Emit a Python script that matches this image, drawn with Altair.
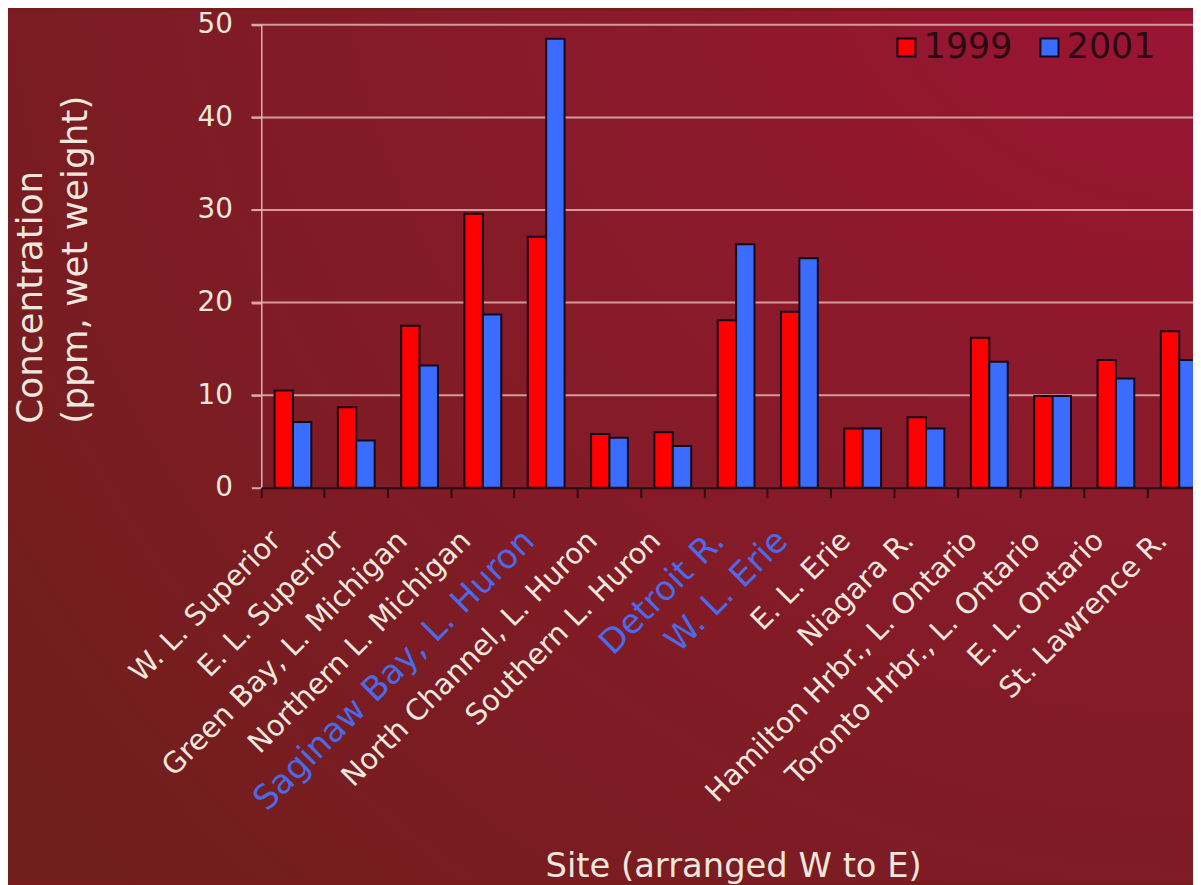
import altair as alt
import pandas as pd

sites = [
    "W. L. Superior", "E. L. Superior", "Green Bay, L. Michigan",
    "Northern L. Michigan", "Saginaw Bay, L. Huron", "North Channel, L. Huron",
    "Southern L. Huron", "Detroit R.", "W. L. Erie", "E. L. Erie",
    "Niagara R.", "Hamilton Hrbr., L. Ontario", "Toronto Hrbr., L. Ontario",
    "E. L. Ontario", "St. Lawrence R.",
]
v1999 = [10.5, 8.7, 17.5, 29.6, 27.1, 5.8, 6.0, 18.1, 19.0, 6.4, 7.6, 16.2, 9.9, 13.8, 16.9]
v2001 = [7.1, 5.1, 13.2, 18.7, 48.5, 5.4, 4.5, 26.3, 24.8, 6.4, 6.4, 13.6, 9.9, 11.8, 13.8]
years = ["1999", "2001"]
highlighted = ["Saginaw Bay, L. Huron", "Detroit R.", "W. L. Erie"]
y_ticks = [0, 10, 20, 30, 40, 50]

rows = []
for s, a, b in zip(sites, v1999, v2001):
    rows.append({"site": s, "year": "1999", "value": a})
    rows.append({"site": s, "year": "2001", "value": b})
df = pd.DataFrame(rows)
grid_df = pd.DataFrame({"value": y_ticks[1:]})

FONT = "DejaVu Sans"
LIGHT = "#eee7de"
W, H = 938, 466
PAD = {"left": 255, "top": 14, "right": 0, "bottom": 397}

hl_test = "indexof(" + str(highlighted) + ", datum.value) >= 0"

y_scale = alt.Scale(domain=[0, 50], nice=False)

bg = alt.Chart(pd.DataFrame({"k": [0]})).mark_rect(
    clip=False,
    fill={
        "gradient": "radial",
        "x1": 1, "y1": 0, "r1": 0,
        "x2": 1, "y2": 0, "r2": 1.25,
        "stops": [
            {"offset": 0, "color": "#a01236"},
            {"offset": 0.4, "color": "#8b1a2b"},
            {"offset": 0.8, "color": "#7a1c22"},
            {"offset": 1, "color": "#711f1d"},
        ],
    },
).encode(
    x=alt.value(-PAD["left"]), x2=alt.value(W),
    y=alt.value(-PAD["top"]), y2=alt.value(H + PAD["bottom"]),
)

grid = alt.Chart(grid_df).mark_rule(
    color="#d49a9a", strokeWidth=2
).encode(
    y=alt.Y("value:Q", scale=y_scale),
    x=alt.value(-10), x2=alt.value(W),
)

bars = alt.Chart(df).mark_bar(
    stroke="#14091a", strokeWidth=2, clip=True
).encode(
    x=alt.X(
        "site:N", sort=sites,
        scale=alt.Scale(range=[0, 956], paddingInner=0, paddingOuter=0),
        axis=alt.Axis(
            title="Site (arranged W to E)",
            titleFont=FONT, titleFontSize=34, titleFontWeight="normal",
            titleColor=LIGHT, titleX=475, titleY=391,
            titleAlign="center", titleBaseline="alphabetic",
            labelAngle=315, labelAlign="right", labelBaseline="middle",
            labelFont=FONT,
            labelFontSize={"condition": {"test": hl_test, "value": 34}, "value": 29},
            labelColor={"condition": {"test": hl_test, "value": "#4a6ae8"}, "value": LIGHT},
            labelOffset=-17, labelPadding=38,
            labelOverlap=False, labelLimit=0,
            bandPosition=0, ticks=True, tickSize=10, tickColor="#2a0c12",
            tickWidth=2, domainColor="#2a0c12", domainWidth=2,
            grid=False, zindex=2,
        ),
    ),
    xOffset=alt.XOffset(
        "year:N", sort=years,
        scale=alt.Scale(paddingInner=0, paddingOuter=0.72),
    ),
    y=alt.Y(
        "value:Q",
        scale=y_scale,
        axis=alt.Axis(
            values=y_ticks,
            title=["Concentration", "(ppm, wet weight)"],
            titleFont=FONT, titleFontSize=36, titleFontWeight="normal",
            titleColor=LIGHT, titleAngle=270, titleAlign="left",
            titleBaseline="top", titleX=-249, titleY=401, titleLineHeight=45,
            labelFont=FONT, labelFontSize=28, labelColor=LIGHT,
            labelPadding=19, tickSize=10, tickColor="#d9a9a9", tickWidth=2,
            domainColor="#d9b3b3", domainWidth=1.5,
            grid=False, zindex=1,
        ),
    ),
    color=alt.Color(
        "year:N",
        scale=alt.Scale(domain=years, range=["#ff0000", "#3a6cff"]),
        legend=alt.Legend(
            title=None, orient="none", legendX=632, legendY=5,
            direction="horizontal", symbolType="square", symbolSize=330,
            symbolStrokeColor="#14091a", symbolStrokeWidth=2,
            labelFont=FONT, labelFontSize=35, labelColor="#2a0a12",
            labelOffset=0, columnPadding=19, padding=0, zindex=2,
        ),
    ),
)

chart = alt.layer(bg, grid, bars).properties(
    width=W, height=H,
    autosize=alt.AutoSizeParams(type="none"),
    padding=PAD,
    background="#7a1c1e",
).configure_view(stroke=None)

chart.save("out.html", embed_options={"renderer": "svg", "actions": False})
